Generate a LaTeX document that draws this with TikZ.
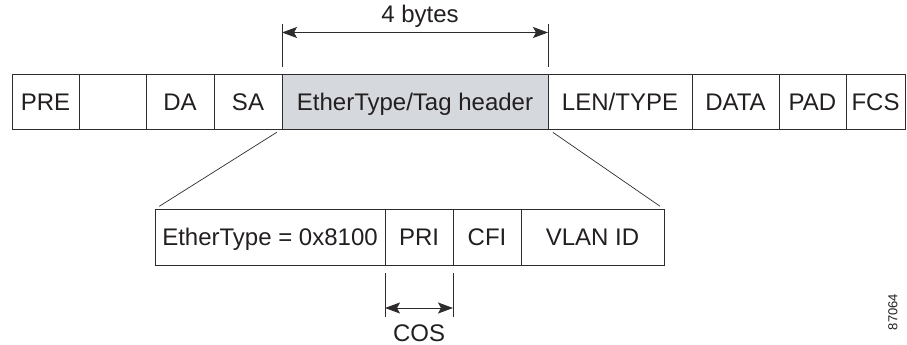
\documentclass[tikz,border=0pt]{standalone}
\usepackage{fontspec}
\setmainfont{Liberation Sans}
\usetikzlibrary{positioning,arrows.meta}
\definecolor{framegray}{RGB}{45,43,44}
\definecolor{tagfill}{RGB}{213,216,220}
\definecolor{inkgray}{RGB}{35,31,32}
\tikzset{
    fieldbox/.style={draw=framegray, line width=1pt, minimum height=55pt, inner sep=0pt, outer sep=0pt, text=inkgray, font=\fontsize{24}{28}\selectfont, text height=17pt, text depth=0pt},
    fieldlabel/.style={text=inkgray, font=\fontsize{24}{28}\selectfont, inner sep=0pt},
    spanarrow/.style={draw=framegray, line width=0.9pt, {Stealth[length=15pt, width=11pt, inset=3pt]}-{Stealth[length=15pt, width=11pt, inset=3pt]}},
    spantick/.style={draw=framegray, line width=0.8pt},
    zoomline/.style={draw=framegray, line width=0.7pt}
}

\begin{document}
\begin{tikzpicture}[x=1pt, y=-1pt, node distance=0pt]
    \useasboundingbox (0,0) rectangle (907,345);

    % frame fields
    \node[fieldbox, minimum width=67pt, anchor=west] (pre) at (12,101.5) {PRE};
    \node[fieldbox, minimum width=67pt, right=of pre] (sfd) {};
    \node[fieldbox, minimum width=68pt, right=of sfd] (da) {DA};
    \node[fieldbox, minimum width=68pt, right=of da] (sa) {SA};
    \node[fieldbox, minimum width=266pt, fill=tagfill, right=of sa] (tag) {EtherType/Tag header};
    \node[fieldbox, minimum width=144pt, right=of tag] (len) {LEN/TYPE};
    \node[fieldbox, minimum width=87pt, right=of len] (data) {DATA};
    \node[fieldbox, minimum width=67pt, right=of data] (pad) {PAD};
    \node[fieldbox, minimum width=59pt, right=of pad] (fcs) {FCS};

    % tag fields
    \node[fieldbox, minimum width=230pt, minimum height=56pt, anchor=west] (etype) at (155,237) {EtherType = 0x8100};
    \node[fieldbox, minimum width=68pt, minimum height=56pt, right=of etype] (pri) {PRI};
    \node[fieldbox, minimum width=68pt, minimum height=56pt, right=of pri] (cfi) {CFI};
    \node[fieldbox, minimum width=143pt, minimum height=56pt, right=of cfi] (vid) {VLAN ID};

    \draw[zoomline, shorten <=6pt, shorten >=5pt] (tag.south west) -- (etype.north west);
    \draw[zoomline, shorten <=6pt, shorten >=5pt] (tag.south east) -- (vid.north east);

    % 4 bytes span
    \draw[spantick] ([yshift=7pt]tag.north west) -- ++(0,-43);
    \draw[spantick] ([yshift=7pt]tag.north east) -- ++(0,-43);
    \coordinate (bytesL) at ([yshift=41.5pt]tag.north west);
    \coordinate (bytesR) at ([yshift=41.5pt]tag.north east);
    \draw[spanarrow] (bytesL) -- node[fieldlabel, anchor=base, yshift=9.5pt, xshift=5pt] (bytes) {4 bytes} (bytesR);

    % COS span
    \draw[spantick] ([yshift=-8pt]pri.south west) -- ++(0,44);
    \draw[spantick] ([yshift=-8pt]pri.south east) -- ++(0,44);
    \coordinate (cosL) at ([yshift=-43pt]pri.south west);
    \coordinate (cosR) at ([yshift=-43pt]pri.south east);
    \draw[spanarrow] (cosL) -- node[fieldlabel, anchor=base, yshift=-33pt] (cos) {COS} (cosR);

    \node[text=inkgray, font=\fontsize{13}{15}\selectfont, rotate=90, inner sep=0pt] (fignum) at (893,312) {87064};
\end{tikzpicture}
\end{document}
